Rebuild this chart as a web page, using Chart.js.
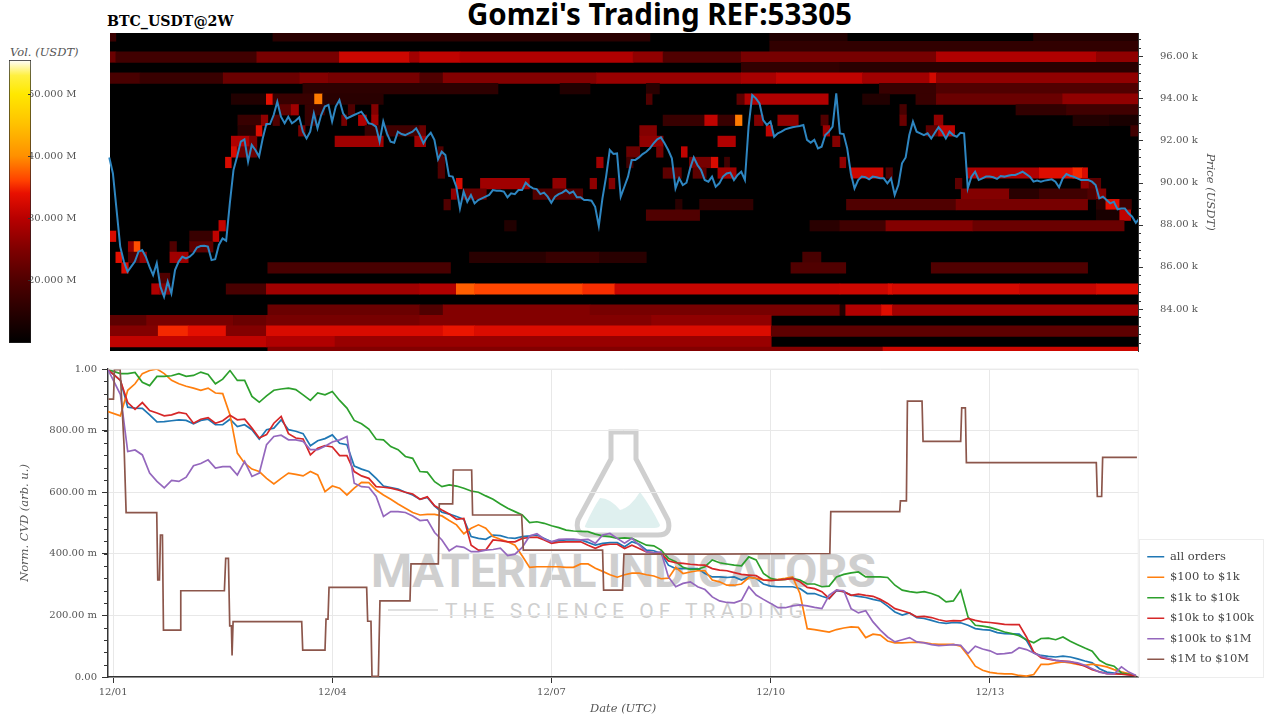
<!DOCTYPE html>
<html lang="en">
<head>
<meta charset="UTF-8">
<title>BTC_USDT@2W</title>
<script src="https://cdn.jsdelivr.net/npm/chart.js@4"></script>
<style>
  body { margin: 0; background: #fff; }
  canvas, svg, #legendBox { position: absolute; left: 0; top: 0; }
  #legendBox { left: 1139px; top: 539px; width: 123px; height: 137px; border: 1px solid #ededed; }
</style>
</head>
<body>
<svg width="1280" height="720">
  <text x="467" y="25" font-family="Noto Sans" font-weight="700" font-size="30" textLength="385" lengthAdjust="spacingAndGlyphs">Gomzi's Trading REF:53305</text>
  <text x="107" y="26" font-family="DejaVu Serif" font-weight="700" font-size="14.2">BTC_USDT@2W</text>
  <text x="10" y="56" font-family="DejaVu Serif" font-style="italic" font-size="11.5" fill="#555">Vol. (USDT)</text>
  <path d="M611 432 H636 V459 L668 520 Q672 535 658 535 H590 Q574 535 578 520 L611 459 Z" fill="none" stroke="#cfcfcf" stroke-width="5"/>
  <path d="M585 526 Q592 510 600 498 Q610 498 620 510 Q630 508 640 492 Q650 505 660 525 Q660 528 654 528 H590 Q584 528 585 526 Z" fill="#dff0ef"/>
  <text x="371" y="587" font-family="Roboto" font-weight="700" font-size="47" fill="#cfcfcf" textLength="505">MATERIAL INDICATORS</text>
  <text x="445" y="618" font-family="Roboto" font-size="21" fill="#cfcfcf" textLength="358">THE SCIENCE OF TRADING</text>
  <path d="M388 610 H438 M806 610 H873" stroke="#d8d8d8" stroke-width="1.5"/>
</svg>
<div id="legendBox"></div>
<canvas id="volBar" width="90" height="310" style="top:40px"></canvas>
<canvas id="heat" width="1230" height="374"></canvas>
<canvas id="cvd" width="1280" height="370" style="top:350px"></canvas>

<script>
// values. days are counted from 12/01 00:00 UTC
const dateTicks = [0, 3, 6, 9, 12];
const dateLabels = ['12/01', '12/04', '12/07', '12/10', '12/13'];

const priceTicks = [84, 86, 88, 90, 92, 94, 96];
const priceLabels = ['84.00 k', '86.00 k', '88.00 k', '90.00 k', '92.00 k', '94.00 k', '96.00 k'];
const cvdTicks = [0, 0.2, 0.4, 0.6, 0.8, 1];
const cvdLabels = ['0.00', '200.00 m', '400.00 m', '600.00 m', '800.00 m', '1.00'];
const volTicks = [20, 30, 40, 50];
const volLabels = ['20.000 M', '30.000 M', '40.000 M', '50.000 M'];

const cmapVols = [9.84, 20, 25, 30, 34, 36, 40, 45, 50, 53, 55.5];
const cmapColors = [[0,0,0],[80,0,0],[128,0,0],[184,0,0],[232,16,0],[255,64,0],[255,144,0],[255,192,0],[255,232,0],[255,240,64],[255,255,255]];

// price in k USDT, one value every 0.05 day starting at -0.05
const priceValues = [
  91.19,90.43,88.70,86.96,86.25,85.77,86.01,86.25,86.72,86.80,86.48,86.01,85.61,86.17,85.06,84.58,85.30,84.74,85.85,86.25,
  86.48,86.40,86.48,86.64,86.92,86.99,87.00,86.96,86.32,86.36,87.04,87.35,87.24,89.01,90.59,91.23,91.94,92.05,90.99,91.78,
  91.54,91.23,92.09,92.77,92.77,93.20,93.83,93.12,92.81,93.12,92.81,92.93,93.09,92.41,92.09,92.41,93.28,92.57,93.20,93.60,
  93.68,92.89,93.60,93.91,93.28,93.04,93.12,93.20,93.28,93.36,93.12,92.81,92.77,92.65,91.94,92.89,92.33,91.94,91.89,92.41,
  92.30,92.25,92.33,92.41,92.57,92.25,91.86,
  92.17,92.36,92.02,91.10,91.46,91.30,90.31,90.28,89.80,88.77,89.57,89.09,89.41,89.01,89.17,89.25,89.33,89.41,89.64,89.61,
  89.61,89.57,89.30,89.49,89.45,89.64,89.64,89.99,89.83,89.72,89.69,89.45,89.52,89.33,89.04,89.33,89.45,89.52,89.64,89.49,
  89.57,89.30,89.30,89.17,89.17,89.14,88.85,87.94,89.25,90.28,91.54,91.35,91.38,89.33,89.80,90.28,91.07,91.07,91.19,91.35,
  91.46,91.62,91.86,92.05,92.14,91.86,91.54,91.15,89.72,90.20,89.88,89.99,90.67,91.19,90.83,90.59,90.12,90.04,90.28,89.80,
  89.96,90.28,90.43,90.47,90.12,90.36,90.51,90.12,92.65,94.15,93.99,93.75,92.96,92.73,92.89,92.17,92.33,92.41,92.52,92.57,
  92.62,92.65,92.68,92.73,92.02,91.89,92.02,91.62,91.70,92.25,92.41,92.65,94.23,92.33,
  92.30,91.62,90.43,89.72,90.12,90.28,90.25,90.15,90.28,90.25,90.20,90.20,89.96,90.20,89.41,89.88,90.91,91.19,92.25,92.89,
  92.41,92.33,92.25,92.33,92.09,92.36,92.62,92.41,92.09,92.41,92.25,92.17,92.36,92.33,89.72,90.28,90.51,90.12,90.20,90.28,
  90.28,90.25,90.17,90.31,90.28,90.32,90.36,90.36,90.43,90.51,90.40,90.28,90.04,90.09,90.04,90.09,90.12,90.15,90.04,89.77,
  90.20,90.40,90.32,90.28,90.20,90.12,90.12,90.12,90.04,89.88,89.25,89.33,89.17,89.01,89.09,88.73,88.77,88.77,88.54,88.38,
  88.09,88.30
];

// heat bands: [row price in k USDT, [[start day, end day, volume in M], ...]]
const heatUpper = [
  [96.95, [[-0.04,0.04,17],[2.19,7.35,15],[8.99,10.05,14],[12.6,14.03,14]]],
  [96.45, [[8.99,14.03,16]]],
  [95.95, [[-0.04,0.04,22.7],[0.04,1.97,18],[1.97,3.1,24.1],[3.1,4.06,31.7],[4.06,4.2,27.9],[4.2,4.75,30.7],[4.75,7.12,29.3],[7.12,7.53,26.4],[7.53,8.6,20],[8.6,11.27,24.1],[11.27,13.46,29.3],[13.46,14.03,26.4]]],
  [95.45, [[8.6,9.95,16],[9.95,14.03,15]]],
  [94.95, [[-0.04,0.37,19],[0.37,1.51,17],[1.51,2.56,22.7],[2.56,2.95,25.3],[2.95,4.2,24.1],[4.2,4.52,20],[4.52,6.62,25.3],[6.62,8.6,27.1],[8.6,9.08,28.6],[9.08,10.26,30.7],[10.26,11.18,27.9],[11.18,11.27,32.2],[11.27,14.03,26.4]]],
  [94.45, [[2.6,5.27,15.5],[6.12,6.53,14],[7.3,7.48,15],[10.49,11.27,17],[11.27,14.03,20]]],
  [93.95, [[1.62,2.1,14],[2.1,2.19,33.7],[2.19,2.76,17],[2.76,2.87,38.9],[2.87,3.7,15],[7.3,7.38,20],[8.54,8.65,21.4],[8.65,9.79,29.3],[10.26,10.63,14],[10.99,11.27,17],[11.27,13,22.7],[13,14.03,26.4]]],
  [93.45, [[2.28,2.44,21.4],[2.44,2.54,27.9],[2.63,2.9,17],[3.22,3.31,20],[3.54,3.63,25.3],[10.77,10.86,19],[12.36,13.05,16],[13.05,14.03,18]]],
  [92.95, [[1.71,2.03,17],[2.03,2.12,26.4],[2.19,2.28,20],[2.63,2.79,17],[3.13,3.2,24.1],[3.36,3.47,29.3],[3.54,3.63,27.9],[7.53,8.1,17],[8.1,8.28,30.7],[8.28,8.52,17],[8.52,8.61,38.9],[8.78,8.9,25.3],[9.1,9.38,26.4],[9.69,9.79,20],[10.77,10.86,22.7],[11.24,11.36,26.4],[13.14,13.64,14],[13.64,14.03,13]]]
];
const heatMiddle = [
  [92.45, [[1.71,1.96,15],[1.96,2.04,33.2],[2.54,2.63,24.1],[3.45,3.65,17],[3.74,4.2,18],[4.2,4.28,22.7],[7.21,7.44,25.3],[8.94,9.03,30.7],[9.72,9.81,27.9],[11.13,11.3,21.4],[11.3,11.52,30.7],[13.93,14.03,18]]],
  [91.95, [[1.62,1.87,29.3],[1.87,1.97,24.1],[3.04,3.7,27.9],[4.13,4.28,27.9],[7.21,7.53,26.4],[8.28,8.52,29.3],[9.85,9.95,25.3]]],
  [91.45, [[1.62,1.7,32.7],[1.7,1.97,22.7],[4.45,4.52,20],[7.03,7.21,22.7],[7.44,7.53,24.1],[7.78,7.86,30.7]]],
  [90.95, [[1.54,1.62,32.7],[4.45,4.54,20],[6.62,6.71,27.9],[7.03,7.12,18],[7.89,8.19,24.1],[8.19,8.28,32.7],[8.37,8.44,18],[9.95,10.03,26.4]]],
  [90.45, [[4.45,4.54,20],[7.53,7.78,21.4],[7.94,8.12,21.4],[8.28,8.53,27.9],[10.1,10.54,31.7],[10.58,10.67,20],[11.68,12.68,29.3],[12.68,13.14,33.2],[13.14,13.27,35],[13.27,13.34,32.7]]],
  [89.95, [[4.7,4.78,32.7],[5.03,5.7,27.9],[6.02,6.2,26.4],[6.53,6.62,26.4],[6.79,6.87,25.3],[11.53,11.62,21.4],[13.25,13.36,26.4],[13.36,13.52,21.4]]],
  [89.45, [[4.63,4.7,26.4],[4.79,5.11,22.7],[5.75,6.43,20],[11.61,12.27,25.3],[12.27,12.68,15],[12.68,13.34,18],[13.34,13.46,20],[13.46,13.59,25.3]]],
  [88.95, [[4.53,4.62,20],[7.7,7.79,15],[8.03,8.76,16],[10.04,11.54,20],[11.54,13.34,24.1],[13.46,13.59,15],[13.59,13.78,33.7],[13.78,13.94,18]]],
  [88.45, [[7.3,8.03,20],[13.46,13.78,13],[13.78,13.93,30.7]]],
  [87.95, [[1.45,1.54,30.7],[5.36,5.52,14],[9.54,9.95,15],[9.95,10.58,18],[10.58,11.77,25.3],[11.77,13.84,22.7]]],
  [87.45, [[-0.04,0.04,32.7],[1.05,1.37,17],[1.37,1.45,30.7]]],
  [86.95, [[0.21,0.29,26.4],[0.29,0.37,36.7],[0.78,0.87,20],[1.05,1.37,21.4]]]
];
const heatLower = [
  [86.45, [[0.04,0.12,33.7],[0.21,0.37,20],[0.37,0.46,26.4],[0.78,1.03,27.9],[4.88,5.93,15],[5.93,6.66,17],[6.66,7.3,15],[9.44,9.69,19]]],
  [85.95, [[0.12,0.21,32.7],[2.12,4.62,19],[9.28,10.03,20],[11.2,13.34,20]]],
  [85.45, [[0.64,0.78,20]]],
  [84.95, [[0.53,0.64,29.3],[0.64,0.78,25.3],[1.55,2.1,19],[2.1,4.2,27.9],[4.2,4.7,29.3],[4.7,4.95,37.5],[4.95,6.43,36.3],[6.43,6.87,35.2],[6.87,9.95,31.2],[9.95,10.61,31.7],[10.61,10.67,33.2],[10.67,12.41,32.2],[12.41,13.46,31.2],[13.46,14.03,32.7]]],
  [83.95, [[2.12,4.2,22.7],[4.2,4.52,20],[4.52,6.53,25.3],[6.53,9.95,24.1],[9.95,10.03,14],[10.03,10.52,29.3],[10.52,10.67,33.2],[10.67,14.03,27.9]]],
  [83.45, [[-0.04,0.46,21.4],[0.46,1.65,24.1],[1.65,2.1,22.7],[2.1,4.2,24.1],[4.2,7.37,25.3],[7.37,9.01,26.4]]],
  [82.95, [[-0.04,0.62,25.3],[0.62,1.03,35],[1.03,1.55,33.7],[1.55,2.1,25.3],[2.1,4.52,32.7],[4.52,4.95,34.2],[4.95,9.01,32.9],[9.01,14.03,21.4]]],
  [82.45, [[-0.04,2.1,30.7],[2.1,3.04,29.3],[3.04,9.01,27.1]]],
  [81.95, [[2.12,10.54,25.3],[10.54,14.03,31.7]]]
];

// normalized CVD, first value at the left edge, then one value every 0.1 day from 0.1
const cvdAll = [
  .998,.963,.876,.873,.872,.851,.828,.829,.832,.835,.833,.822,.833,.837,.819,.819,.837,.813,.819,.803,.772,.803,.808,.835,.803,.798,.790,.751,.767,.774,.786,.759,.754,.685,.675,.667,.645,.620,.615,.610,.600,.591,.577,
  .583,.555,.535,.529,.521,.512,.456,.450,.447,.461,.459,.452,.450,.456,.458,.461,.450,.439,.443,.445,.445,.445,.437,.428,.434,.436,.436,.423,.439,.431,.412,.410,.401,.363,.352,.352,.352,.352,.336,.325,.325,.323,.325,.315,.325,.320,.302,.295,.293,.293,.293,.287,.271,.271,.262,.255,.280,
  .277,.266,.262,.258,.252,.247,.230,.211,.201,.208,.193,.190,.184,.177,.174,.177,.176,.168,.157,.154,.152,.144,.141,.140,.139,.119,.078,.070,.067,.065,.068,.065,.059,.052,.046,.027,.016,.013,.011,.008,.004
];
const cvd100to1k = [
  .862,.848,.931,.952,.985,.995,1.0,.985,.963,.952,.944,.938,.931,.938,.922,.920,.851,.727,.694,.675,.667,.645,.627,.645,.662,.658,.653,.667,.656,.602,.620,.613,.591,.613,.632,.631,.607,.591,.577,.562,.548,.534,.526,
  .528,.528,.523,.508,.494,.465,.483,.494,.483,.456,.447,.439,.428,.393,.356,.358,.358,.358,.358,.356,.356,.367,.367,.353,.343,.332,.324,.332,.337,.337,.332,.328,.319,.321,.356,.336,.341,.345,.345,.315,.309,.298,.298,.302,.323,.320,.315,.315,.317,.320,.325,.271,.157,.154,.150,.146,.154,
  .159,.163,.161,.128,.139,.136,.117,.111,.111,.112,.113,.112,.108,.106,.106,.106,.100,.070,.035,.022,.015,.012,.010,.010,.005,.003,.008,.041,.041,.046,.049,.046,.041,.038,.042,.038,.033,.024,.017,.011,.004
];
const cvd1kto10k = [
  .998,.985,.985,.989,.957,.946,.976,.976,.978,.985,.976,.979,.990,.982,.952,.967,.995,.963,.963,.911,.892,.913,.931,.935,.938,.933,.916,.898,.922,.916,.927,.898,.873,.833,.822,.805,.772,.770,.748,.738,.716,.710,.667,
  .665,.634,.618,.624,.620,.613,.604,.600,.588,.577,.562,.548,.537,.526,.501,.504,.499,.491,.485,.477,.474,.473,.472,.464,.458,.456,.450,.452,.450,.439,.428,.426,.412,.385,.374,.356,.349,.350,.358,.380,.371,.367,.363,.361,.390,.380,.336,.320,.315,.317,.320,.315,.302,.302,.293,.295,.325,
  .333,.338,.341,.325,.325,.325,.323,.298,.282,.277,.274,.277,.271,.262,.244,.247,.282,.195,.168,.165,.161,.154,.146,.141,.134,.121,.111,.125,.126,.121,.130,.116,.105,.094,.084,.054,.041,.035,.013,.009,.004
];
const cvd10kto100k = [
  .998,.963,.891,.869,.891,.865,.857,.848,.851,.859,.855,.824,.837,.842,.824,.832,.850,.835,.837,.808,.776,.787,.824,.846,.790,.776,.773,.721,.743,.751,.747,.719,.719,.667,.653,.645,.618,.616,.613,.607,.600,.594,.577,
  .585,.556,.542,.529,.512,.515,.428,.412,.412,.445,.443,.439,.439,.450,.453,.454,.445,.434,.438,.439,.439,.439,.428,.418,.428,.431,.431,.417,.428,.417,.406,.403,.401,.377,.371,.369,.366,.364,.363,.352,.347,.345,.339,.333,.331,.329,.315,.313,.315,.317,.320,.309,.291,.287,.277,.255,.282,
  .277,.265,.269,.265,.262,.252,.239,.222,.215,.208,.195,.197,.193,.186,.181,.183,.182,.190,.184,.179,.177,.174,.171,.170,.170,.130,.081,.063,.058,.054,.052,.050,.043,.035,.024,.017,.011,.010,.009,.007,.004
];
const cvd100kto1m = [
  .998,.917,.732,.737,.721,.662,.635,.614,.638,.635,.649,.686,.693,.705,.678,.683,.683,.656,.700,.651,.662,.754,.781,.785,.770,.770,.765,.738,.738,.749,.763,.770,.781,.629,.618,.616,.586,.521,.537,.537,.534,.523,.508,
  .510,.469,.445,.410,.425,.421,.407,.407,.412,.414,.418,.394,.399,.421,.458,.465,.448,.439,.447,.448,.448,.445,.447,.434,.461,.466,.450,.434,.450,.428,.406,.403,.406,.325,.293,.304,.309,.293,.284,.260,.247,.242,.241,.249,.293,.266,.252,.239,.225,.225,.231,.234,.231,.226,.222,.266,.282,
  .280,.222,.208,.215,.179,.152,.130,.114,.121,.128,.114,.111,.105,.102,.103,.105,.103,.076,.100,.091,.085,.074,.076,.079,.095,.089,.078,.067,.060,.054,.051,.049,.046,.038,.027,.016,.011,.010,.033,.016,.005
];
// the $1M to $10M series is a staircase, so it keeps its own days
const bigDays = [
  -0.064,0.005,0.018,0.096,0.15,0.178,0.597,0.611,0.634,0.648,0.675,0.689,0.917,0.926,1.523,1.541,1.578,1.596,1.619,1.628,1.642,2.581,2.595,2.90,2.914,2.941,2.955,3.47,3.484,3.529,3.543,3.63,3.652,4.063,4.077,
  4.451,4.464,4.647,4.656,4.907,4.92,5.591,5.614,6.699,6.713,6.972,6.991,8.131,9.809,9.822,10.766,10.775,10.857,10.871,11.071,11.085,11.6,11.614,11.664,11.678,13.456,13.47,13.529,13.543,14.012
];
const bigValues = [
  .902,.902,.998,.998,.75,.534,.534,.315,.315,.461,.461,.152,.152,.280,.280,.385,.385,.166,.166,.070,.180,.180,.087,.087,.188,.188,.291,.291,.181,.181,.002,.002,.247,.247,.367,
  .367,.562,.562,.672,.672,.526,.526,.412,.412,.282,.282,.399,.399,.401,.537,.537,.572,.572,.896,.896,.765,.765,.874,.874,.696,.696,.586,.586,.713,.713
];

const priceDays = priceValues.map((_, i) => -0.05 + i * 0.05);
const cvdDays = cvdAll.map((_, i) => (i === 0 ? -0.07 : i * 0.1));
const heatCells = [...heatUpper, ...heatMiddle, ...heatLower].flatMap(([price, segs]) =>
  segs.map(([start, end, vol]) => ({ x: [start, end], y: price, vol })));

function volColor(v) {
  let i = 0;
  while (i < cmapVols.length - 2 && v > cmapVols[i + 1]) i++;
  const t = Math.min(1, Math.max(0, (v - cmapVols[i]) / (cmapVols[i + 1] - cmapVols[i])));
  const c = cmapColors[i].map((a, k) => Math.round(a + (cmapColors[i + 1][k] - a) * t));
  return `rgb(${c[0]},${c[1]},${c[2]})`;
}

const pairs = (xs, ys) => ys.map((y, i) => ({ x: xs[i], y }));
const fixTicks = values => scale => { scale.ticks = values.map(value => ({ value })); };
const range = (from, to, step) => {
  const out = [];
  for (let v = from; v <= to + 1e-9; v += step) out.push(v);
  return out;
};

// small tick marks and frame lines, positioned with the chart's own scales
const extras = {
  id: 'extras',
  beforeDraw(chart, args, opts) {
    if (opts.legendLift) chart.legend.bottom = chart.chartArea.bottom - opts.legendLift;
  },
  beforeDatasetsDraw(chart, args, opts) {
    if (!opts.plotFill) return;
    const a = chart.chartArea;
    chart.ctx.fillStyle = opts.plotFill;
    chart.ctx.fillRect(a.left, a.top, a.width, a.height);
  },
  afterDraw(chart, args, opts) {
    const { ctx, chartArea: a, scales } = chart;
    ctx.save();
    if (opts.frame) {
      ctx.strokeStyle = opts.frame;
      ctx.beginPath();
      ctx.moveTo(a.left, a.top); ctx.lineTo(a.right, a.top); ctx.lineTo(a.right, a.bottom);
      ctx.stroke();
    }
    ctx.strokeStyle = '#333';
    ctx.lineWidth = 1;
    (opts.marks || []).forEach(m => {
      ctx.beginPath();
      m.values.forEach(v => {
        const y = Math.round(scales.y.getPixelForValue(v)) + 0.5;
        ctx.moveTo(m.from, y);
        ctx.lineTo(m.to, y);
      });
      ctx.stroke();
    });
    ctx.restore();
  }
};
Chart.register(extras);

Chart.defaults.font.family = '"DejaVu Serif"';
Chart.defaults.font.size = 10;
Chart.defaults.color = '#555';
Chart.defaults.animation = false;
Chart.defaults.responsive = false;
Chart.defaults.plugins.tooltip.enabled = false;

const italicTitle = (text, pad) => ({
  display: true, text, color: '#555', padding: pad,
  font: { size: 11.5, style: 'italic' }
});

new Chart(document.getElementById('volBar'), {
  type: 'bar',
  data: {
    labels: ['Vol.'],
    datasets: [{
      data: [[cmapVols[0], cmapVols[cmapVols.length - 1]]],
      barPercentage: 1, categoryPercentage: 1,
      borderColor: '#222', borderWidth: 1, borderSkipped: false,
      backgroundColor(ctx) {
        const { chart } = ctx;
        if (!chart.chartArea) return '#000';
        const y = chart.scales.y, low = cmapVols[0], high = cmapVols[cmapVols.length - 1];
        const g = chart.ctx.createLinearGradient(0, y.getPixelForValue(low), 0, y.getPixelForValue(high));
        cmapVols.forEach((v, i) => g.addColorStop((v - low) / (high - low), `rgb(${cmapColors[i].join(',')})`));
        return g;
      }
    }]
  },
  options: {
    layout: { padding: { left: 9, top: 20, bottom: 7 } },
    plugins: {
      legend: { display: false },
      extras: { marks: [{ values: volTicks, from: 28, to: 31 }] }
    },
    scales: {
      x: { display: false },
      y: {
        position: 'right', min: cmapVols[0], max: cmapVols[cmapVols.length - 1],
        grid: { display: false, drawTicks: false }, border: { display: false },
        afterFit(s) { s.width = 59; },
        afterBuildTicks: fixTicks(volTicks),
        ticks: { padding: -3, autoSkip: false, callback: (v, i) => volLabels[i] }
      }
    }
  }
});

new Chart(document.getElementById('heat'), {
  type: 'bar',
  data: {
    datasets: [
      {
        type: 'line', indexAxis: 'x', order: 0, label: 'price',
        data: pairs(priceDays, priceValues),
        borderColor: '#2e86c1', borderWidth: 2, pointRadius: 0, tension: 0,
        clip: { left: 3, top: 0, right: 0, bottom: 0 }
      },
      {
        order: 1, label: 'volume', data: heatCells, grouped: false,
        barThickness: 10.54, borderWidth: 0,
        backgroundColor: ctx => volColor(ctx.raw.vol)
      }
    ]
  },
  options: {
    indexAxis: 'y',
    layout: { padding: { left: 110, top: 33, bottom: 23 } },
    plugins: {
      legend: { display: false },
      extras: {
        plotFill: '#000',
        marks: [
          { values: priceTicks, from: 1138, to: 1143 },
          { values: range(82.4, 97, 0.4), from: 1138, to: 1141 }
        ]
      }
    },
    scales: {
      x: { type: 'linear', display: false, min: -0.04, max: 14.03, offset: false, grid: { display: false } },
      y: {
        type: 'linear', position: 'right', min: 82.01, max: 97.09, offset: false,
        grid: { display: false, drawTicks: true, tickLength: 5 },
        border: { color: '#333' },
        afterFit(s) { s.width = 92; },
        afterBuildTicks: fixTicks(priceTicks),
        title: italicTitle('Price (USDT)', { top: 13, bottom: 0 }),
        ticks: { padding: 17, autoSkip: false, callback: (v, i) => priceLabels[i] }
      }
    }
  }
});

const cvdLines = [
  { label: 'all orders', values: cvdAll, color: '#1f77b4' },
  { label: '$100 to $1k', values: cvd100to1k, color: '#ff7f0e' },
  { label: '$1k to $10k', values: cvd1kto10k, color: '#2ca02c' },
  { label: '$10k to $100k', values: cvd10kto100k, color: '#d62728' },
  { label: '$100k to $1M', values: cvd100kto1m, color: '#9467bd' }
];

new Chart(document.getElementById('cvd'), {
  type: 'line',
  data: {
    datasets: [
      ...cvdLines.map((s, i) => ({
        label: s.label, order: 6 - i,
        data: pairs(cvdDays, s.values),
        borderColor: s.color, backgroundColor: s.color,
        borderWidth: 1.7, pointRadius: 0, tension: 0
      })),
      {
        label: '$1M to $10M', order: 0,
        data: pairs(bigDays, bigValues),
        borderColor: '#8c564b', backgroundColor: '#8c564b',
        borderWidth: 1.7, pointRadius: 0, tension: 0
      }
    ]
  },
  options: {
    layout: { padding: { top: 19, right: 16 } },
    plugins: {
      legend: {
        position: 'right', align: 'end', fullSize: false,
        labels: {
          color: '#444', font: { size: 11.5 }, usePointStyle: true, pointStyle: 'line',
          pointStyleWidth: 17, boxHeight: 11.5, padding: 9,
          sort: (a, b) => a.datasetIndex - b.datasetIndex
        }
      },
      extras: {
        frame: '#ececec', legendLift: 3,
        marks: [{ values: range(0, 1, 0.04), from: 104, to: 108 }]
      }
    },
    scales: {
      x: {
        type: 'linear', min: -0.07, max: 14.03,
        grid: { color: '#e8e8e8', tickColor: '#333', tickLength: 6 },
        border: { color: '#333', width: 1.5 },
        afterFit(s) { s.height = 43; },
        afterBuildTicks: fixTicks(dateTicks),
        title: italicTitle('Date (UTC)', { top: 0, bottom: 4 }),
        ticks: { maxRotation: 0, autoSkip: false, padding: 3, callback: (v, i) => dateLabels[i] }
      },
      y: {
        min: 0, max: 1,
        grid: { color: '#e8e8e8', tickColor: '#333', tickLength: 6 },
        border: { color: '#333', width: 1.5 },
        afterFit(s) { s.width = 108; },
        afterBuildTicks: fixTicks(cvdTicks),
        title: italicTitle('Norm. CVD (arb. u.)', { top: 18, bottom: 0 }),
        ticks: { padding: 5, autoSkip: false, callback: (v, i) => cvdLabels[i] }
      }
    }
  }
});
</script>
</body>
</html>
